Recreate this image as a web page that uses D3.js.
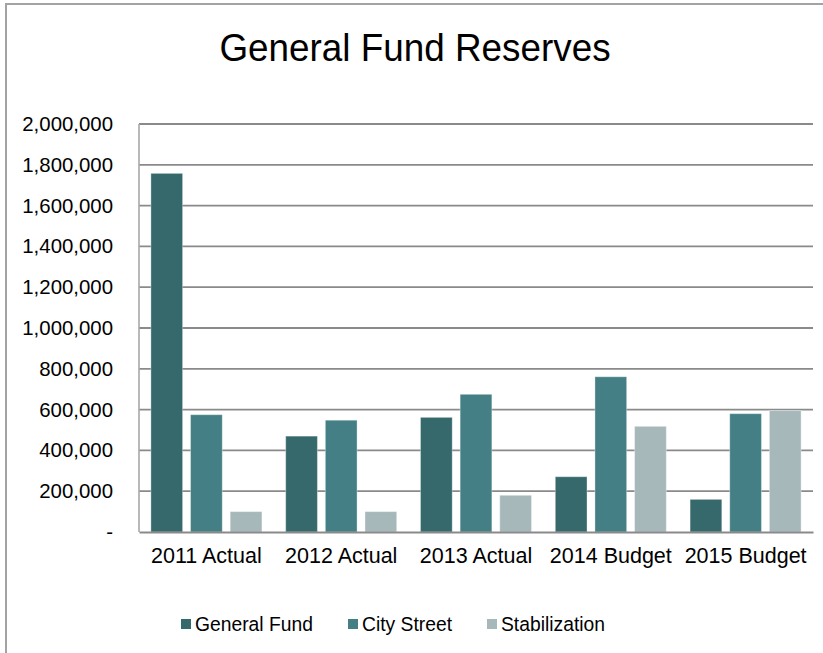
<!DOCTYPE html>
<html>
<head>
<meta charset="utf-8">
<script src="https://cdn.jsdelivr.net/npm/d3@7/dist/d3.min.js"></script>
<style>
  html, body { margin: 0; padding: 0; background: #fff; }
  svg text { font-family: "Liberation Sans", Arial, sans-serif; fill: #000; }
</style>
</head>
<body>
<svg id="chart" width="823" height="653"></svg>
<script>
// Reserve balances by year (dollars)
const categories = ["2011 Actual", "2012 Actual", "2013 Actual", "2014 Budget", "2015 Budget"];
const seriesNames = ["General Fund", "City Street", "Stabilization"];
const generalFund = [1758000, 470000, 562000, 271000, 160000];
const cityStreet = [575000, 548000, 675000, 761000, 580000];
const stabilization = [100000, 100000, 180000, 518000, 595000];
const yTicks = [0, 200000, 400000, 600000, 800000, 1000000, 1200000, 1400000, 1600000, 1800000, 2000000];
const colors = ["#36696b", "#437f84", "#a6b8ba"];

const seriesValues = [generalFund, cityStreet, stabilization];
const rows = categories.map((c, i) => ({
  category: c,
  values: seriesNames.map((s, j) => ({ series: s, value: seriesValues[j][i] }))
}));

const svg = d3.select("#chart");

// Outer chart frame
svg.append("rect")
  .attr("x", 6).attr("y", 4)
  .attr("width", 840).attr("height", 680)
  .attr("fill", "none")
  .attr("stroke", "#a3a3a3")
  .attr("stroke-width", 2);

// Title
svg.append("text")
  .attr("transform", "translate(415,61) scale(0.97,1)")
  .attr("text-anchor", "middle")
  .style("font-size", "38px")
  .text("General Fund Reserves");

const plot = { left: 139, right: 813, top: 124, bottom: 532 };

const x0 = d3.scaleBand()
  .domain(categories)
  .range([plot.left, plot.right])
  .padding(0);

const x1 = d3.scaleBand()
  .domain(seriesNames)
  .range([0, x0.bandwidth()])
  .paddingInner(0.2)
  .paddingOuter(0.3);

const y = d3.scaleLinear()
  .domain([0, 2000000])
  .range([plot.bottom, plot.top]);

const color = d3.scaleOrdinal().domain(seriesNames).range(colors);

// Horizontal gridlines
svg.append("g")
  .selectAll("line")
  .data(yTicks.filter(t => t > 0))
  .join("line")
  .attr("x1", plot.left).attr("x2", plot.right)
  .attr("y1", d => y(d)).attr("y2", d => y(d))
  .attr("stroke", "#8a8a8a")
  .attr("stroke-width", 1.8);

// Y axis labels
const fmt = d3.format(",");
const yAxis = d3.axisLeft(y)
  .tickValues(yTicks)
  .tickSize(0)
  .tickPadding(26)
  .tickFormat(d => d === 0 ? "-" : fmt(d));

const yg = svg.append("g")
  .attr("transform", `translate(${plot.left},0)`)
  .call(yAxis);
yg.select(".domain").remove();
yg.selectAll("text")
  .style("font-size", "20.4px")
  .style("font-family", "'Liberation Sans', Arial, sans-serif")
  .attr("fill", "#000");

// Bars
svg.append("g")
  .selectAll("g")
  .data(rows)
  .join("g")
  .attr("transform", d => `translate(${x0(d.category)},0)`)
  .selectAll("rect")
  .data(d => d.values)
  .join("rect")
  .attr("x", d => x1(d.series))
  .attr("y", d => y(d.value))
  .attr("width", x1.bandwidth())
  .attr("height", d => y(0) - y(d.value))
  .attr("fill", d => color(d.series))
  .attr("stroke", "rgba(255,255,255,0.35)")
  .attr("stroke-width", 1);

// Left axis line
svg.append("line")
  .attr("x1", plot.left).attr("x2", plot.left)
  .attr("y1", plot.top).attr("y2", plot.bottom)
  .attr("stroke", "#a8a8a8").attr("stroke-width", 1.6);

// X axis
const xAxis = d3.axisBottom(x0).tickSize(0).tickPadding(16);
const xg = svg.append("g")
  .attr("transform", `translate(0,${plot.bottom})`)
  .call(xAxis);
xg.select(".domain")
  .attr("stroke", "#8a8a8a")
  .attr("stroke-width", 2);
xg.selectAll("text")
  .style("font-size", "21.5px")
  .style("font-family", "'Liberation Sans', Arial, sans-serif")
  .attr("fill", "#000");

// Legend
const legendX = [181, 348, 487];
const legend = svg.append("g")
  .selectAll("g")
  .data(seriesNames)
  .join("g")
  .attr("transform", (d, i) => `translate(${legendX[i]},619)`);
legend.append("rect")
  .attr("width", 10).attr("height", 10)
  .attr("fill", d => color(d));
legend.append("text")
  .attr("x", 14).attr("y", 12)
  .style("font-size", "19.3px")
  .text(d => d);
</script>
</body>
</html>
